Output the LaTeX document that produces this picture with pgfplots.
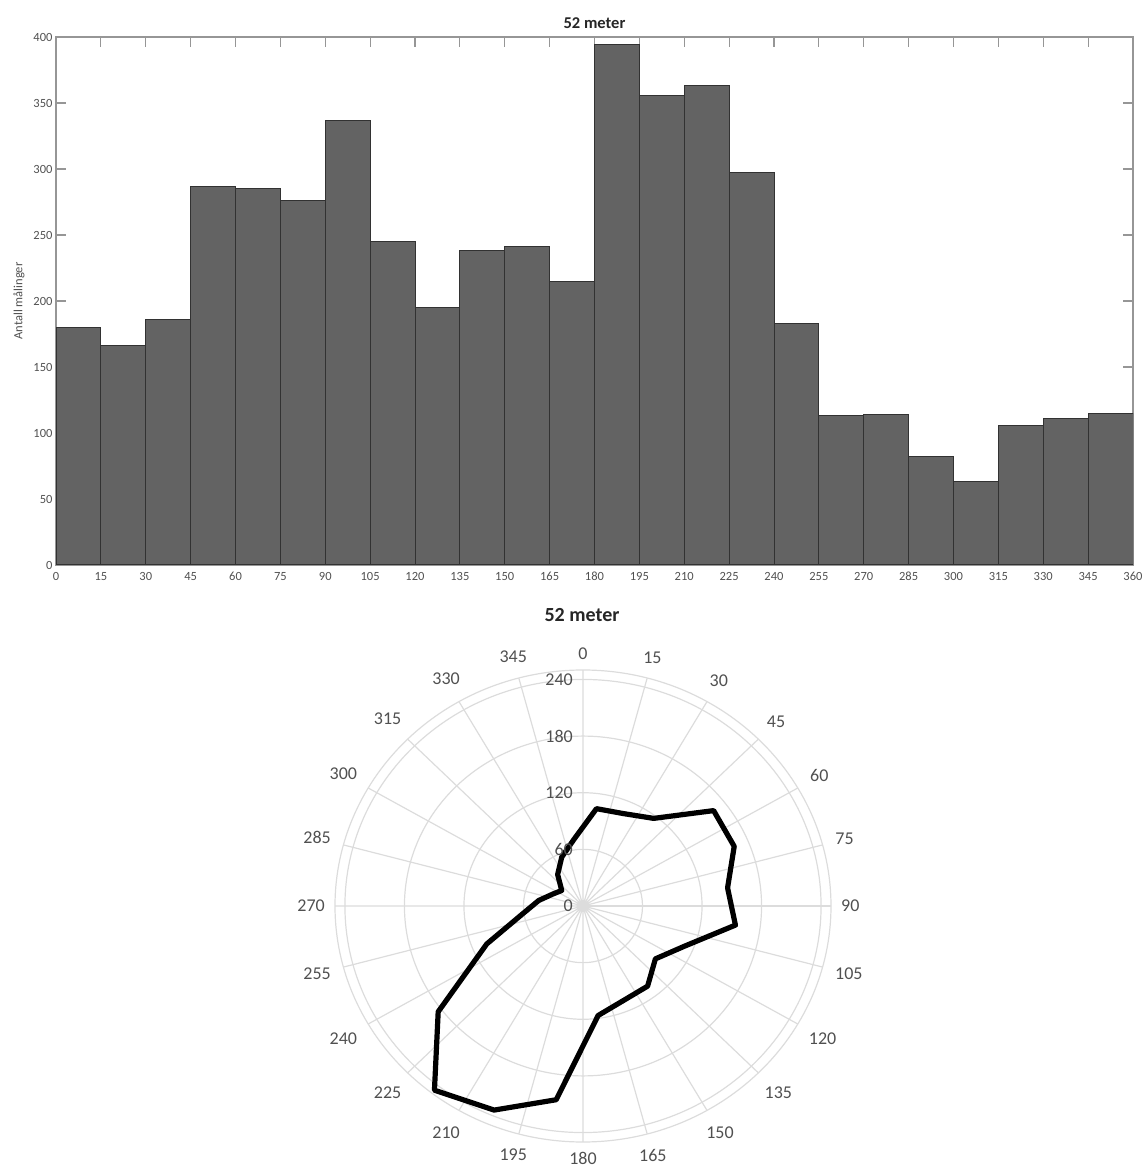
\documentclass[border=0pt]{standalone}
\usepackage{pgfplots}
\pgfplotsset{compat=1.18}
\usepgfplotslibrary{polar}
\usepackage{fontspec}
\setmainfont{Carlito}
\definecolor{barfill}{RGB}{99,99,99}
\definecolor{baredge}{RGB}{50,50,50}
\definecolor{axgray}{RGB}{150,150,150}
\definecolor{lblgray}{RGB}{80,80,80}
\definecolor{gridgray}{RGB}{220,220,220}
\begin{document}
\begin{tikzpicture}
\path[use as bounding box] (0pt,0pt) rectangle (1145pt,1165pt);
\begin{axis}[
  at={(56pt,600pt)}, anchor=south west,
  width=1077pt, height=528pt, scale only axis,
  xmin=0, xmax=360, ymin=0, ymax=400,
  xtick={0,15,...,360}, ytick={0,50,...,400},
  tick align=inside, tick pos=both, major tick length=10pt,
  axis line style={axgray, line width=1.3pt},
  every tick/.style={axgray, line width=1.2pt},
  tick label style={font=\fontsize{12.5}{14}\selectfont, text=lblgray},
  xticklabel style={text height=9pt, text depth=0pt, yshift=-3pt},
  /pgf/number format/assume math mode=true,
  title={52 meter},
  title style={font=\bfseries\fontsize{16.5}{18}\selectfont, text=black!85, yshift=-1pt},
  ylabel={Antall målinger},
  ylabel style={at={(axis description cs:-0.0344,0.5)}, anchor=center, font=\fontsize{12.5}{14}\selectfont, text=lblgray},
]
\addplot[ybar interval, fill=barfill, draw=baredge, line width=1pt] coordinates {
(0,180) (15,166) (30,186) (45,287) (60,285) (75,276) (90,337) (105,245)
(120,195) (135,238) (150,241) (165,215) (180,394) (195,356) (210,363) (225,297)
(240,183) (255,113) (270,114) (285,82) (300,63) (315,106) (330,111) (345,115) (360,115)
};
\end{axis}
\begin{polaraxis}[
  at={(583pt,259pt)}, anchor=center,
  width=496pt, height=472pt, scale only axis,
  xmin=0, xmax=360, ymin=0, ymax=250,
  xtick={0,15,...,345},
  xticklabels={90,75,60,45,30,15,0,345,330,315,300,285,270,255,240,225,210,195,180,165,150,135,120,105},
  ytick={0,60,120,180,240}, yticklabels={,,,,},
  xmajorgrids, ymajorgrids,
  major grid style={gridgray, line width=1.2pt},
  axis line style={gridgray, line width=1.2pt},
  major tick length=0pt,
  xticklabel style={font=\fontsize{18}{20}\selectfont, text=lblgray, inner sep=10pt},
]
\addplot[black, line width=5.2pt, line join=round] table[x expr={90-\thisrow{dir}}, y=val] {
dir val
7.5 104
22.5 106
37.5 117
52.5 166
67.5 165
82.5 147
97.5 155
112.5 111
127.5 92
142.5 107
157.5 108
172.5 117
187.5 207
202.5 234
217.5 246
232.5 184
247.5 105
262.5 61
277.5 45
292.5 33
307.5 27
322.5 42
337.5 56
352.5 71
} -- cycle;
\pgfplotsinvokeforeach{0,60,120,180,240}{
  \node[anchor=east, inner sep=0pt, xshift=-10pt, font=\fontsize{18}{20}\selectfont, text=lblgray] at (axis cs:90,#1) {#1};
}
\end{polaraxis}
\node[font=\bfseries\fontsize{20}{22}\selectfont, text=black!85] at (582pt,550pt) {52 meter};
\end{tikzpicture}
\end{document}
